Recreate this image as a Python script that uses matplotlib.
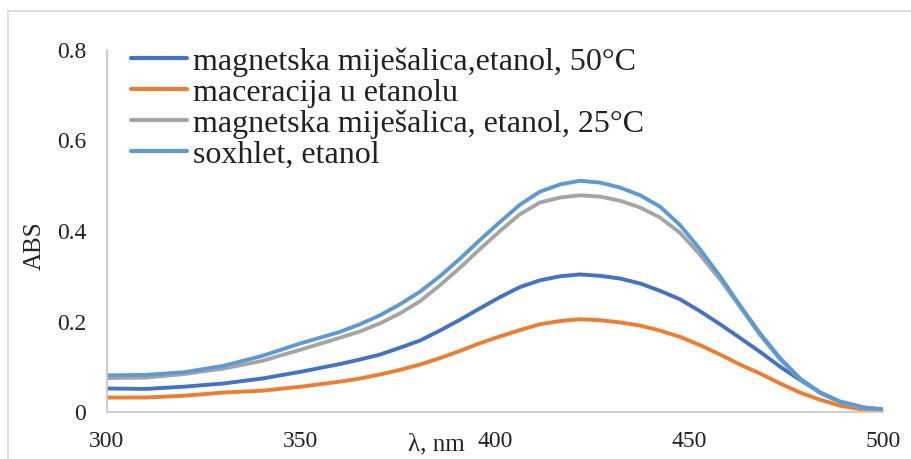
import matplotlib
matplotlib.use('Agg')
import matplotlib.pyplot as plt
from matplotlib.patches import Rectangle

wl = [300, 310, 320, 330, 340, 350, 360, 365.2, 370.4, 375.5, 380.7, 385.8, 391,
      396.1, 401.3, 406.4, 411.6, 416.8, 421.9, 427, 432.2, 437.4, 442.5, 447.7,
      452.8, 458, 463.1, 468.3, 473.5, 478.6, 483.8, 488.9, 495, 500]

mag_50 = [0.052, 0.051, 0.056, 0.063, 0.074, 0.089, 0.106, 0.116, 0.127, 0.142,
          0.158, 0.180, 0.204, 0.229, 0.254, 0.276, 0.291, 0.300, 0.304, 0.301,
          0.295, 0.284, 0.268, 0.249, 0.223, 0.194, 0.164, 0.133, 0.100, 0.071,
          0.043, 0.023, 0.010, 0.005]
maceracija = [0.032, 0.032, 0.036, 0.043, 0.047, 0.056, 0.067, 0.074, 0.083, 0.093,
              0.105, 0.119, 0.135, 0.152, 0.167, 0.181, 0.194, 0.201, 0.205, 0.203,
              0.198, 0.191, 0.180, 0.166, 0.148, 0.127, 0.105, 0.085, 0.063, 0.043,
              0.027, 0.014, 0.005, 0.002]
mag_25 = [0.075, 0.076, 0.084, 0.096, 0.113, 0.138, 0.164, 0.178, 0.196, 0.218,
          0.245, 0.280, 0.319, 0.360, 0.400, 0.437, 0.463, 0.474, 0.479, 0.476,
          0.467, 0.452, 0.430, 0.396, 0.348, 0.293, 0.233, 0.170, 0.116, 0.073,
          0.042, 0.022, 0.009, 0.005]
soxhlet = [0.081, 0.082, 0.088, 0.102, 0.124, 0.152, 0.177, 0.194, 0.214, 0.238,
           0.266, 0.300, 0.339, 0.380, 0.420, 0.458, 0.487, 0.503, 0.511, 0.507,
           0.496, 0.479, 0.454, 0.413, 0.360, 0.300, 0.236, 0.174, 0.119, 0.074,
           0.043, 0.023, 0.010, 0.006]

labels = ['magnetska miješalica,etanol, 50°C', 'maceracija u etanolu',
          'magnetska miješalica, etanol, 25°C', 'soxhlet, etanol']
colors = ['#4472C4', '#ED7D31', '#A5A5A5', '#5B9BD5']

plt.rcParams['font.family'] = ['Liberation Serif', 'DejaVu Serif']
txt = '#222222'

fig = plt.figure(figsize=(9.11, 4.59), dpi=100)
ax = fig.add_axes([107 / 911, 1 - 412 / 459, 776 / 911, 362 / 459])

# light frame around the whole chart
fig.patches.append(Rectangle((8 / 911, -0.05), 1.0, 1 - 11 / 459 + 0.05,
                             transform=fig.transFigure, fill=False,
                             edgecolor='#D9D9D9', lw=1.2))

for ys, lab, c in zip([mag_50, maceracija, mag_25, soxhlet], labels, colors):
    ax.plot(wl, ys, color=c, lw=2.8, label=lab, solid_capstyle='round',
            solid_joinstyle='round')

ax.set_xlim(300, 500)
ax.set_ylim(0, 0.8)
ax.set_xticks([300, 350, 400, 450, 500])
ax.set_yticks([0, 0.2, 0.4, 0.6, 0.8])
ax.set_yticklabels(['0', '0.2', '0.4', '0.6', '0.8'])
ax.tick_params(axis='x', length=0, pad=14, labelsize=17, labelcolor=txt)
ax.tick_params(axis='y', length=0, pad=15, labelsize=17, labelcolor=txt)

for s in ['top', 'right']:
    ax.spines[s].set_visible(False)
for s in ['left', 'bottom']:
    ax.spines[s].set_color('#C8C8C8')
    ax.spines[s].set_linewidth(1.3)

ax.set_xlabel('λ, nm', fontsize=18, color=txt)
ax.xaxis.set_label_coords(0.425, -0.06)
ax.set_ylabel('ABS', fontsize=18, color=txt)
ax.yaxis.label.set_verticalalignment('center')
ax.yaxis.set_label_coords(-0.093, 0.46)

leg = ax.legend(loc='upper left', bbox_to_anchor=(0.031, 1.008), frameon=False,
                fontsize=23, handlelength=1.75, handletextpad=0.2,
                labelspacing=0.05, borderpad=0, borderaxespad=0)
for t in leg.get_texts():
    t.set_color(txt)
for h in leg.get_lines():
    h.set_linewidth(3)

fig.savefig('out.png', dpi=100)
